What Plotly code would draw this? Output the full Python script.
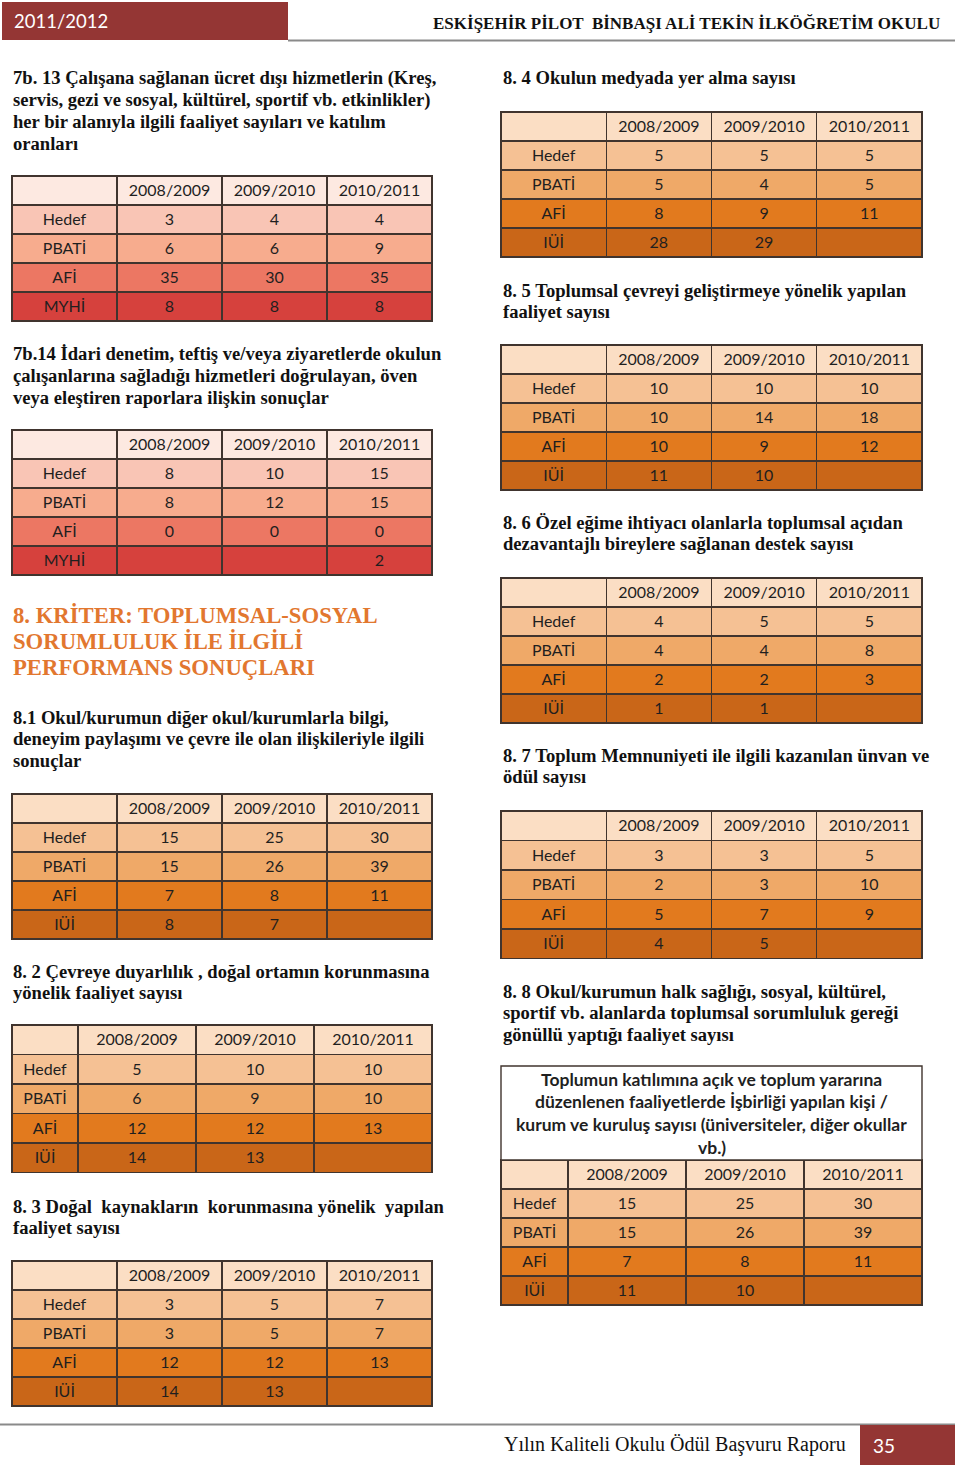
import plotly.graph_objects as go

W, H = 960, 1465

# --- dati delle tabelle ---
years = ["2008/2009", "2009/2010", "2010/2011"]
rows_myhi = ["Hedef", "PBATİ", "AFİ", "MYHİ"]
rows_iui = ["Hedef", "PBATİ", "AFİ", "IÜİ"]

t7b13 = [[3, 4, 4], [6, 6, 9], [35, 30, 35], [8, 8, 8]]
t7b14 = [[8, 10, 15], [8, 12, 15], [0, 0, 0], ["", "", 2]]
t81 = [[15, 25, 30], [15, 26, 39], [7, 8, 11], [8, 7, ""]]
t82 = [[5, 10, 10], [6, 9, 10], [12, 12, 13], [14, 13, ""]]
t83 = [[3, 5, 7], [3, 5, 7], [12, 12, 13], [14, 13, ""]]
t84 = [[5, 5, 5], [5, 4, 5], [8, 9, 11], [28, 29, ""]]
t85 = [[10, 10, 10], [10, 14, 18], [10, 9, 12], [11, 10, ""]]
t86 = [[4, 5, 5], [4, 4, 8], [2, 2, 3], [1, 1, ""]]
t87 = [[3, 3, 5], [2, 3, 10], [5, 7, 9], [4, 5, ""]]
t88 = [[15, 25, 30], [15, 26, 39], [7, 8, 11], [11, 10, ""]]

# colori: intestazione + 4 righe
red = ["#FDE9E1", "#F9C5B5", "#F7AC8E", "#EC7763", "#D6413D"]
orange = ["#FBDEC4", "#F5C194", "#EFA968", "#E27A1E", "#C96618"]
edge = "#40342e"
ink = "#1f1f1f"
dark_red = "#943634"
kriter = "#E2772F"

fig = go.Figure()


def add_table(x0, x1, y_top, widths, labels, values, pal, row_h=29):
    cols = [labels] + [[r[i] for r in values] for i in range(3)]
    fig.add_trace(go.Table(
        domain=dict(x=[x0 / W, x1 / W],
                    y=[max(0, 1 - (y_top + row_h * 6) / H), 1 - y_top / H]),
        columnwidth=widths,
        header=dict(values=[""] + years, height=row_h, fill_color=pal[0],
                    line=dict(color=edge, width=1.4), align="center",
                    font=dict(family="Lato", size=16, color=ink)),
        cells=dict(values=cols, height=row_h, fill_color=[pal[1:]] * 4,
                   line=dict(color=edge, width=1.4), align="center",
                   font=dict(family="Lato", size=16, color=ink)),
    ))


def text_block(x, y, lines, dy=21.7, size=18.6, color="#111111",
               family="Liberation Serif", bold=True, anchor="left"):
    for i, ln in enumerate(lines):
        fig.add_annotation(
            x=x / W, y=1 - (y + i * dy) / H, xref="paper", yref="paper",
            text=f"<b>{ln}</b>" if bold else ln, showarrow=False,
            xanchor=anchor, yanchor="middle",
            font=dict(family=family, size=size, color=color))


# --- colonna sinistra ---
text_block(11, 78, ["7b. 13 Çalışana sağlanan ücret dışı hizmetlerin (Kreş,",
                    "servis, gezi ve sosyal, kültürel, sportif vb. etkinlikler)",
                    "her bir alanıyla ilgili faaliyet sayıları ve katılım",
                    "oranları"])
add_table(12, 432, 176, [1, 1, 1, 1], rows_myhi, t7b13, red)

text_block(11, 354, ["7b.14 İdari denetim, teftiş ve/veya ziyaretlerde okulun",
                     "çalışanlarına sağladığı hizmetleri doğrulayan, öven",
                     "veya eleştiren raporlara ilişkin sonuçlar"])
add_table(12, 432, 430, [1, 1, 1, 1], rows_myhi, t7b14, red)

text_block(11, 615, ["8. KRİTER: TOPLUMSAL-SOSYAL",
                     "SORUMLULUK İLE İLGİLİ",
                     "PERFORMANS SONUÇLARI"], dy=26, size=22.7, color=kriter)

text_block(11, 717, ["8.1 Okul/kurumun diğer okul/kurumlarla bilgi,",
                     "deneyim paylaşımı ve çevre ile olan ilişkileriyle ilgili",
                     "sonuçlar"])
add_table(12, 432, 794, [1, 1, 1, 1], rows_iui, t81, orange)

text_block(11, 971, ["8. 2 Çevreye duyarlılık , doğal ortamın korunmasına",
                     "yönelik faaliyet sayısı"])
add_table(12, 432, 1025, [66, 118, 118, 118], rows_iui, t82, orange, row_h=29.5)

text_block(11, 1206, ["8. 3 Doğal  kaynakların  korunmasına yönelik  yapılan",
                      "faaliyet sayısı"])
add_table(12, 432, 1261, [1, 1, 1, 1], rows_iui, t83, orange)

# --- colonna destra ---
text_block(501, 78, ["8. 4 Okulun medyada yer alma sayısı"])
add_table(501, 922, 112, [1, 1, 1, 1], rows_iui, t84, orange)

text_block(501, 290, ["8. 5 Toplumsal çevreyi geliştirmeye yönelik yapılan",
                      "faaliyet sayısı"])
add_table(501, 922, 345, [1, 1, 1, 1], rows_iui, t85, orange)

text_block(501, 522, ["8. 6 Özel eğime ihtiyacı olanlarla toplumsal açıdan",
                      "dezavantajlı bireylere sağlanan destek sayısı"])
add_table(501, 922, 578, [1, 1, 1, 1], rows_iui, t86, orange)

text_block(501, 755, ["8. 7 Toplum Memnuniyeti ile ilgili kazanılan ünvan ve",
                      "ödül sayısı"])
add_table(501, 922, 811, [1, 1, 1, 1], rows_iui, t87, orange, row_h=29.5)

text_block(501, 991, ["8. 8 Okul/kurumun halk sağlığı, sosyal, kültürel,",
                      "sportif vb. alanlarda toplumsal sorumluluk gereği",
                      "gönüllü yaptığı faaliyet sayısı"])
fig.add_shape(type="rect", xref="paper", yref="paper",
              x0=501 / W, x1=922 / W, y0=1 - 1160 / H, y1=1 - 1066 / H,
              line=dict(color=edge, width=1.4), fillcolor="white")
text_block(711.5, 1079, ["Toplumun katılımına açık ve toplum yararına",
                         "düzenlenen faaliyetlerde İşbirliği yapılan kişi /",
                         "kurum ve kuruluş sayısı (üniversiteler, diğer okullar",
                         "vb.)"], dy=22.7, size=17.5, color=ink,
           family="Lato", anchor="center")
add_table(501, 922, 1160, [67, 118, 118, 118], rows_iui, t88, orange)

# --- intestazione e piè di pagina ---
fig.add_shape(type="rect", xref="paper", yref="paper", x0=2 / W, x1=288 / W,
              y0=1 - 40 / H, y1=1 - 2 / H, fillcolor=dark_red, line_width=0)
fig.add_shape(type="line", xref="paper", yref="paper", x0=288 / W, x1=955 / W,
              y0=1 - 40.5 / H, y1=1 - 40.5 / H, line=dict(color="#8a8a8a", width=2))
text_block(12, 21, ["2011/2012"], size=18.5, color="white", family="Lato", bold=False)
text_block(942, 24, ["ESKİŞEHİR PİLOT  BİNBAŞI ALİ TEKİN İLKÖĞRETİM OKULU"],
           size=17, color="#111111", anchor="right")

fig.add_shape(type="line", xref="paper", yref="paper", x0=0, x1=955 / W,
              y0=1 - 1424.5 / H, y1=1 - 1424.5 / H, line=dict(color="#8a8a8a", width=2))
fig.add_shape(type="rect", xref="paper", yref="paper", x0=860 / W, x1=955 / W,
              y0=1 - 1465 / H, y1=1 - 1425 / H, fillcolor=dark_red, line_width=0)
text_block(848, 1444, ["Yılın Kaliteli Okulu Ödül Başvuru Raporu"], size=20,
           color="#111111", bold=False, anchor="right")
text_block(871, 1445, ["35"], size=19, color="white", family="Lato", bold=False)

fig.update_layout(width=W, height=H, margin=dict(l=0, r=0, t=0, b=0),
                  paper_bgcolor="white", plot_bgcolor="white", showlegend=False)

fig.write_html("out.html", config={"displayModeBar": False},
               post_script="document.body.style.margin='0';")
